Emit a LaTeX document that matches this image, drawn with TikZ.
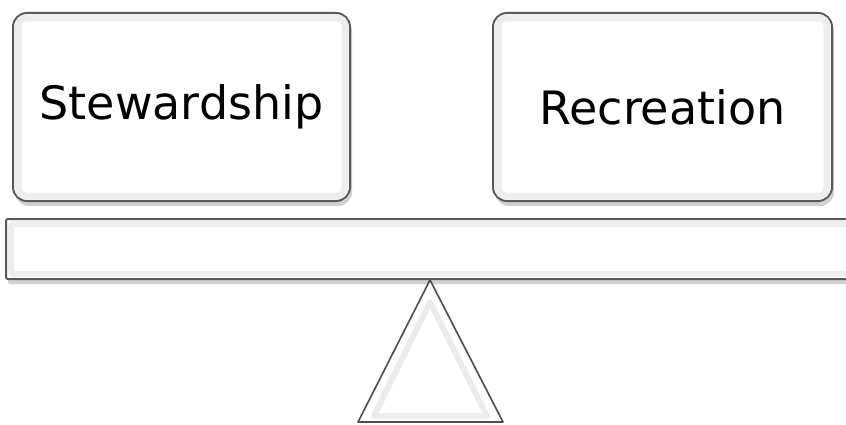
\documentclass[tikz,border=0pt]{standalone}
\usepackage{fontspec}
\setmainfont{DejaVu Sans}
\usetikzlibrary{shadows}

\tikzset{
  panel/.style={draw=gray!70!black, line width=2pt, fill=white,
    rounded corners=14pt, inner sep=0pt,
    drop shadow={shadow xshift=2pt, shadow yshift=-5pt, opacity=0.3, fill=black!60}},
  bevel/.style={draw=gray!13, line width=7pt, rounded corners=8pt},
  label/.style={font=\fontsize{46}{46}\selectfont, text=black}
}

\begin{document}
\begin{tikzpicture}[x=1pt,y=1pt]
   \useasboundingbox (0,0) rectangle (846,424);
   % the two pans
   \node[panel, minimum width=337pt, minimum height=188pt] (stew) at (181.5,317) {};
   \node[panel, minimum width=339pt, minimum height=188pt] (recr) at (662.5,317) {};
   \draw[bevel] ([shift={(6pt,-6pt)}]stew.north west) rectangle ([shift={(-6pt,6pt)}]stew.south east);
   \draw[bevel] ([shift={(6pt,-6pt)}]recr.north west) rectangle ([shift={(-6pt,6pt)}]recr.south east);
   \node[label] at (stew) {Stewardship};
   \node[label] at (recr) {Recreation};
   % the beam
   \node[panel, rounded corners=2pt, minimum width=850pt, minimum height=60pt, anchor=west] (beam) at (5,175) {};
   \draw[bevel, line width=6pt, rounded corners=3pt] ([shift={(6pt,-6pt)}]beam.north west) rectangle ([shift={(-6pt,6pt)}]beam.south east);
   % the fulcrum
   \coordinate (tip) at (beam.south -| 430,0);
   \draw[draw=gray!60!black, line width=1.6pt, fill=white, line join=round]
     (tip) -- (358,2) -- (503,2) -- cycle;
   \draw[draw=gray!15, line width=6pt, line join=round]
     (430,122) -- (374,8) -- (487,8) -- cycle;
\end{tikzpicture}
\end{document}
